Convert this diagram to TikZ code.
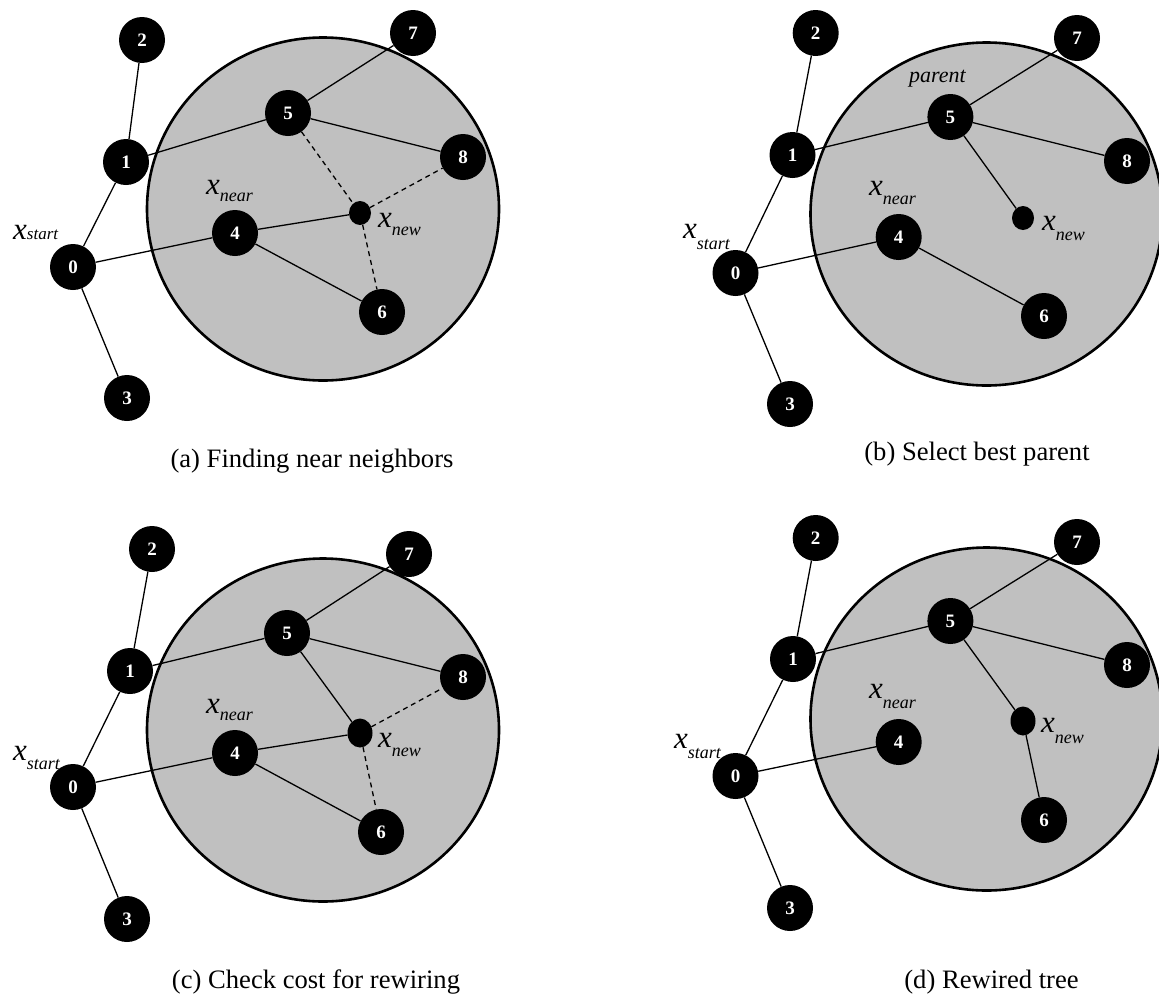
\documentclass[tikz,border=0pt]{standalone}
\usepackage{fontspec}
\setmainfont{Liberation Serif}
\usetikzlibrary{shapes.geometric}
\definecolor{disc}{HTML}{C0C0C0}
\tikzset{
  vtx/.style={circle, fill=black, minimum size=46pt, inner sep=0pt, text=white,
              font=\fontsize{19}{19}\selectfont\bfseries},
  newpt/.style={ellipse, fill=black, minimum width=22pt, minimum height=24pt, inner sep=0pt},
  newptbig/.style={newpt, minimum width=25pt, minimum height=29pt},
  link/.style={line width=1.3pt},
  trial/.style={line width=1.3pt, dash pattern=on 5pt off 4pt},
  region/.style={fill=disc, draw=black, line width=2.6pt},
  lbl/.style={anchor=base west, inner sep=0pt, font=\itshape},
  capt/.style={anchor=base, inner sep=0pt, font=\fontsize{26.6}{30}\selectfont},
}
% x with a lowered subscript: #1 text, #2 drop in pt, #3 subscript size
\newcommand{\xsub}[3][18]{{\fontsize{31}{31}\selectfont x}\raisebox{-#3pt}{\fontsize{#1}{#1}\selectfont #2}}
\begin{document}
\begin{tikzpicture}[x=1pt, y=-1pt]
\useasboundingbox (0,0) rectangle (1159,996);
\clip (0,0) rectangle (1159,996);

% ---------- (a) Finding near neighbors ----------
\draw[region] (323,209) ellipse [x radius=176, y radius=171.5];
\node[vtx] (a2) at (142,40) {2};
\node[vtx] (a7) at (413,33) {7};
\node[vtx] (a5) at (288,113) {5};
\node[vtx] (a1) at (126,162) {1};
\node[vtx] (a8) at (463,157) {8};
\node[newpt] (an) at (360,213) {};
\node[vtx] (a4) at (235,233) {4};
\node[vtx] (a0) at (73,267) {0};
\node[vtx] (a6) at (382,312) {6};
\node[vtx] (a3) at (127,398) {3};
\draw[link] (a2) -- (a1) -- (a0) -- (a3);
\draw[link] (a1) -- (a5) -- (a7);
\draw[link] (a5) -- (a8);
\draw[link] (a0) -- (a4) -- (an);
\draw[link] (a4) -- (a6);
\draw[trial] (a5) -- (an);
\draw[trial] (an) -- (a8);
\draw[trial] (an) -- (a6);
\node[lbl] (as) at (13,239) {\xsub[17]{start}{0.5}};
\node[lbl] (ar) at (206,194) {\xsub{near}{7}};
\node[lbl] (aw) at (378,227) {\xsub{new}{8}};
\node[capt] (acap) at (312,467) {(a) Finding near neighbors};

% ---------- (b) Select best parent ----------
\draw[region] (986.5,214) ellipse [x radius=176, y radius=171.5];
\node[vtx] (b2) at (815.7,33) {2};
\node[vtx] (b7) at (1077,38) {7};
\node[vtx] (b5) at (950.4,117) {5};
\node[vtx] (b1) at (792.5,155) {1};
\node[vtx] (b8) at (1127,161) {8};
\node[newpt] (bn) at (1023,218) {};
\node[vtx] (b4) at (898.7,237) {4};
\node[vtx] (b0) at (735.5,273) {0};
\node[vtx] (b6) at (1044,316) {6};
\node[vtx] (b3) at (790,404) {3};
\draw[link] (b2) -- (b1) -- (b0) -- (b3);
\draw[link] (b1) -- (b5) -- (b7);
\draw[link] (b5) -- (b8);
\draw[link] (b5) -- (bn);
\draw[link] (b0) -- (b4) -- (b6);
\node[lbl] (bs) at (683,238) {\xsub{start}{11}};
\node[lbl] (br) at (869,195) {\xsub{near}{9}};
\node[lbl] (bw) at (1042,230) {\xsub{new}{10}};
\node[lbl, font=\itshape\fontsize{22}{22}\selectfont] (bp) at (909,82) {parent};
\node[capt] (bcap) at (977,460) {(b) Select best parent};

% ---------- (c) Check cost for rewiring ----------
\draw[region] (323,730) ellipse [x radius=176, y radius=171.5];
\node[vtx] (c2) at (152,549) {2};
\node[vtx] (c7) at (409,554) {7};
\node[vtx] (c5) at (287,633) {5};
\node[vtx] (c1) at (130,671) {1};
\node[vtx] (c8) at (463,677) {8};
\node[newptbig] (cn) at (360,733) {};
\node[vtx] (c4) at (235,753) {4};
\node[vtx] (c0) at (73,787) {0};
\node[vtx] (c6) at (381,832) {6};
\node[vtx] (c3) at (127,919) {3};
\draw[link] (c2) -- (c1) -- (c0) -- (c3);
\draw[link] (c1) -- (c5) -- (c7);
\draw[link] (c5) -- (c8);
\draw[link] (c5) -- (cn);
\draw[link] (c0) -- (c4) -- (cn);
\draw[link] (c4) -- (c6);
\draw[trial] (cn) -- (c8);
\draw[trial] (cn) -- (c6);
\node[lbl] (cs) at (13,760) {\xsub{start}{9}};
\node[lbl] (cr) at (206,713) {\xsub{near}{7}};
\node[lbl] (cw) at (378,747) {\xsub{new}{9}};
\node[capt] (ccap) at (316,988) {(c) Check cost for rewiring};

% ---------- (d) Rewired tree ----------
\draw[region] (986.5,719) ellipse [x radius=176, y radius=171.5];
\node[vtx] (d2) at (815.7,538) {2};
\node[vtx] (d7) at (1077,542) {7};
\node[vtx] (d5) at (950.4,621) {5};
\node[vtx] (d1) at (793,659) {1};
\node[vtx] (d8) at (1127,665) {8};
\node[newptbig] (dn) at (1023,721) {};
\node[vtx] (d4) at (898.7,742) {4};
\node[vtx] (d0) at (735.5,776) {0};
\node[vtx] (d6) at (1044,820) {6};
\node[vtx] (d3) at (790,908) {3};
\draw[link] (d2) -- (d1) -- (d0) -- (d3);
\draw[link] (d1) -- (d5) -- (d7);
\draw[link] (d5) -- (d8);
\draw[link] (d5) -- (dn) -- (d6);
\draw[link] (d0) -- (d4);
\node[lbl] (ds) at (674,748) {\xsub{start}{10}};
\node[lbl] (dr) at (869,698) {\xsub{near}{10}};
\node[lbl] (dw) at (1041,732) {\xsub{new}{11}};
\node[capt] (dcap) at (991.5,988) {(d) Rewired tree};
\end{tikzpicture}
\end{document}
